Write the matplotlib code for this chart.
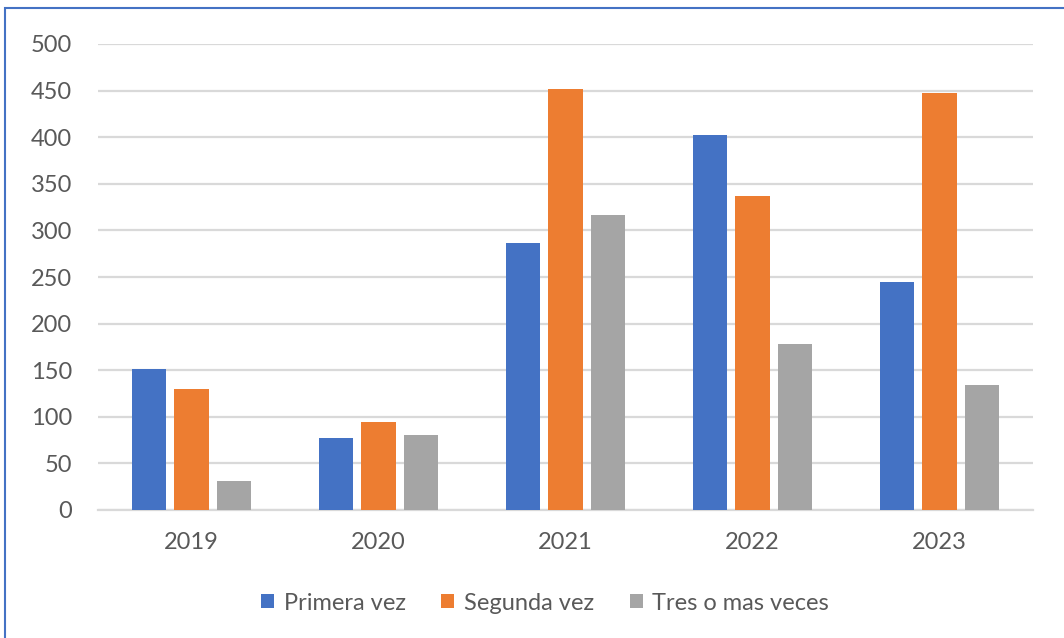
import matplotlib
matplotlib.use("Agg")
import matplotlib.pyplot as plt
import numpy as np
from matplotlib.patches import Rectangle

years = ["2019", "2020", "2021", "2022", "2023"]
primera = [151, 77, 287, 402, 245]
segunda = [130, 94, 452, 337, 447]
tres = [31, 80, 317, 178, 134]
series_names = ["Primera vez", "Segunda vez", "Tres o mas veces"]
colors = ["#4472C4", "#ED7D31", "#A5A5A5"]

plt.rcParams['font.family'] = ['Lato', 'DejaVu Sans']

W, H = 1064, 638
fig = plt.figure(figsize=(W / 100, H / 100), dpi=100)
ax = fig.add_axes([98 / W, 1 - 510 / H, (1033 - 98) / W, (510 - 44) / H])

x = np.arange(len(years))
bw = 0.182
off = 0.225
for i, (vals, name, c) in enumerate(zip([primera, segunda, tres], series_names, colors)):
    ax.bar(x + (i - 1) * off, vals, width=bw, color=c, label=name, zorder=3)

ax.set_xlim(-0.5, 4.5)
ax.set_ylim(0, 500)
ax.set_yticks(range(0, 501, 50))
ax.set_xticks(x)
ax.set_xticklabels(years)
ax.yaxis.grid(True, color="#D9D9D9", linewidth=1.6, zorder=0)
ax.set_axisbelow(True)
for s in ["top", "right", "left"]:
    ax.spines[s].set_visible(False)
ax.spines["bottom"].set_color("#D9D9D9")
ax.spines["bottom"].set_linewidth(1.6)
ax.tick_params(axis="both", length=0, labelsize=17, colors="#595959")
ax.tick_params(axis="y", pad=18.5)
ax.tick_params(axis="x", pad=16)

leg = fig.legend(loc="center", bbox_to_anchor=(545 / W, 1 - 603 / H), ncol=3, frameon=False,
                 fontsize=17, handlelength=0.55, handleheight=0.55, handletextpad=0.42,
                 columnspacing=1.5)
for t in leg.get_texts():
    t.set_color("#595959")

fig.patches.append(Rectangle((5 / W, -0.1), 1.2, 1 - 8 / H + 0.1, transform=fig.transFigure,
                             fill=False, edgecolor="#4472C4", linewidth=1.5))

fig.savefig("out.png", dpi=100)
